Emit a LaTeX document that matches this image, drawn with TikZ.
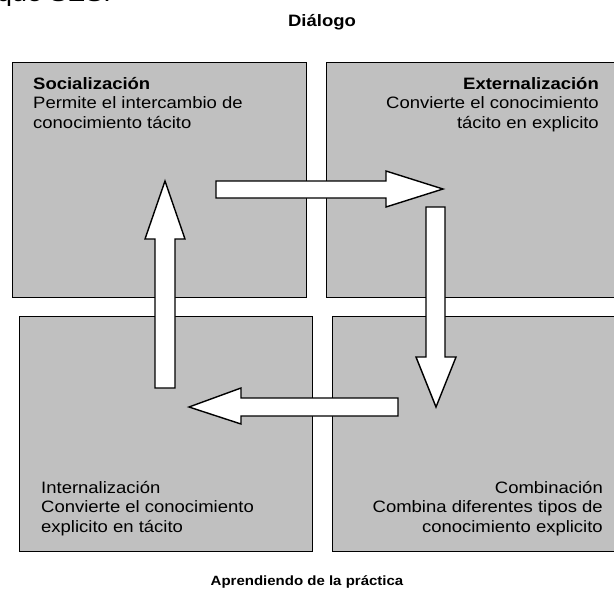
\documentclass[tikz,border=0pt]{standalone}
\usepackage{fontspec}
\setmainfont{Liberation Sans}[FakeStretch=1.12]
\tikzset{
  quad/.style={draw=black, line width=1.4pt, fill=boxgray, anchor=north west, inner sep=0pt},
  blockarrow/.style={draw=black, line width=1.4pt, fill=white, line join=miter},
  boxtext/.style={inner sep=0pt, font=\fontsize{16.5}{19.5}\selectfont},
  title/.style={inner sep=0pt, font=\bfseries}
}
\definecolor{boxgray}{RGB}{192,192,192}
\begin{document}
\begin{tikzpicture}[x=1pt,y=-1pt]
\useasboundingbox (0,0) rectangle (614,590);
\begin{scope}
\clip (0,0) rectangle (614,590);
\node[anchor=base west, inner sep=0pt, font=\fontsize{24}{28}\selectfont] (frag) at (-3,1) {que SES.};
\end{scope}
% boxes
\node[quad, minimum width=294pt, minimum height=235pt] (soc) at (12,62) {};
\node[quad, minimum width=290pt, minimum height=235pt] (ext) at (326,62) {};
\node[quad, minimum width=293pt, minimum height=235pt] (int) at (19,316) {};
\node[quad, minimum width=284pt, minimum height=235pt] (com) at (332,316) {};
% texts (base anchor = baseline of last line)
\node[boxtext, anchor=base west, align=left] (soct) at (33,128) {\textbf{Socialización}\\Permite el intercambio de\\conocimiento tácito};
\node[boxtext, anchor=base east, align=right] (extt) at (599,128) {\textbf{Externalización}\\Convierte el conocimiento\\tácito en explicito};
\node[boxtext, anchor=base west, align=left] (intt) at (41,532) {Internalización\\Convierte el conocimiento\\explicito en tácito};
\node[boxtext, anchor=base east, align=right] (comt) at (603,532) {Combinación\\Combina diferentes tipos de\\conocimiento explicito};
\node[title, anchor=base, font=\fontsize{16.5}{19}\selectfont\bfseries] (dia) at (322,26) {Diálogo};
\node[title, anchor=base, font=\fontsize{13.4}{16}\selectfont\bfseries] (apr) at (307,585) {Aprendiendo de la práctica};
% arrows
\draw[blockarrow] (216,181) -- (386,181) -- (386,171) -- (443,189) -- (386,207) -- (386,198) -- (216,198) -- cycle;
\draw[blockarrow] (426,207) -- (445,207) -- (445,357) -- (456,357) -- (436,407) -- (416,357) -- (426,357) -- cycle;
\draw[blockarrow] (398,398) -- (398,416) -- (241,416) -- (241,424) -- (189,407) -- (241,388) -- (241,398) -- cycle;
\draw[blockarrow] (155,388) -- (155,239) -- (145,239) -- (165,181) -- (185,239) -- (175,239) -- (175,388) -- cycle;
\end{tikzpicture}
\end{document}
